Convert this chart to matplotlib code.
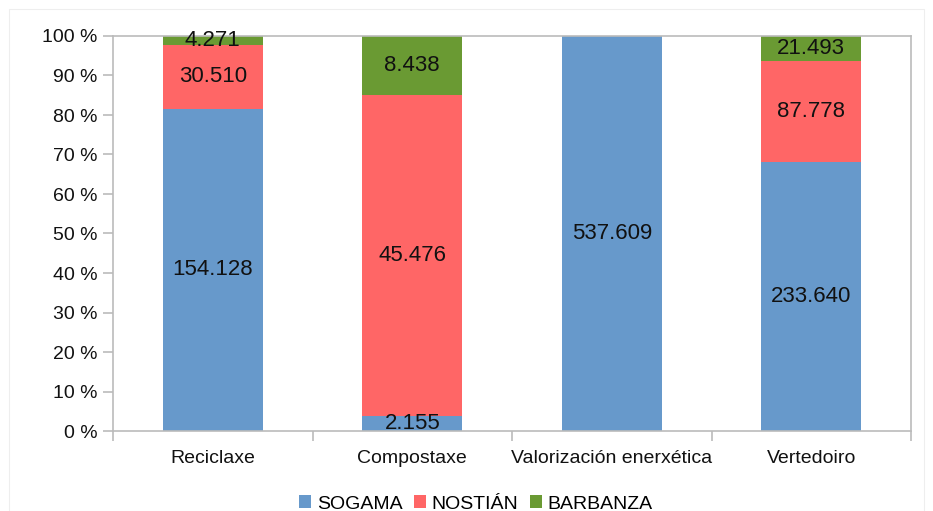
import matplotlib
matplotlib.use("Agg")
import matplotlib.pyplot as plt
from matplotlib.ticker import FuncFormatter, FixedLocator
from matplotlib.patches import Rectangle
import numpy as np

plt.rcParams['font.family'] = ['Liberation Sans', 'DejaVu Sans']

categories = ["Reciclaxe", "Compostaxe", "Valorización enerxética", "Vertedoiro"]
series_names = ["SOGAMA", "NOSTIÁN", "BARBANZA"]
sogama = [154.128, 2.155, 537.609, 233.640]
nostian = [30.510, 45.476, 0.0, 87.778]
barbanza = [4.271, 8.438, 0.0, 21.493]
colors = ["#6799CB", "#FF6666", "#6A9A33"]

data = np.array([sogama, nostian, barbanza])
totals = data.sum(axis=0)
pct = data / totals * 100

fig = plt.figure(figsize=(9.33, 5.11), dpi=100)
ax = fig.add_axes([113/933, 1 - 431/511, (911-113)/933, (431-36)/511])

fig.patches.append(Rectangle((9/933, 0), 1 - 18/933, 1 - 9/511, transform=fig.transFigure,
                             fill=False, edgecolor="#eeeeee", linewidth=0.8))

x = np.arange(len(categories))
bottom = np.zeros(len(categories))
for i, name in enumerate(series_names):
    ax.bar(x, pct[i], bottom=bottom, width=0.5, color=colors[i], label=name,
           edgecolor='none', zorder=2)
    for j in range(len(categories)):
        if data[i][j] > 0:
            val = f"{data[i][j]:.3f}"
            ax.text(x[j], bottom[j] + pct[i][j] / 2, val, ha='center', va='center',
                    fontsize=16, color='#111111', zorder=3)
    bottom += pct[i]

ax.set_xlim(-0.5, len(categories) - 0.5)
ax.set_ylim(0, 100)
ax.set_yticks(np.arange(0, 101, 10))
ax.yaxis.set_major_formatter(FuncFormatter(lambda v, p: f"{int(v)} %"))
ax.set_xticks(x)
ax.set_xticklabels(categories)
ax.xaxis.set_minor_locator(FixedLocator(np.arange(-0.5, len(categories), 1.0)))
ax.tick_params(axis='x', which='major', length=0, pad=14, labelsize=14, colors='#111111')
ax.tick_params(axis='x', which='minor', length=7, width=1.2, color='#bbbbbb', direction='out')
ax.tick_params(axis='y', length=7, width=1.2, color='#bbbbbb', direction='out', labelsize=14,
               labelcolor='#111111', pad=4)
for s in ax.spines.values():
    s.set_color('#bbbbbb')
    s.set_linewidth(1.2)

leg = ax.legend(loc='center', ncol=3,
                frameon=False, fontsize=14, handlelength=0.6, handleheight=0.6,
                handletextpad=0.3, columnspacing=0.6, borderpad=0)
leg.set_bbox_to_anchor((0.455, -73 / 395), transform=ax.transAxes)

fig.savefig("out.png", dpi=100)
